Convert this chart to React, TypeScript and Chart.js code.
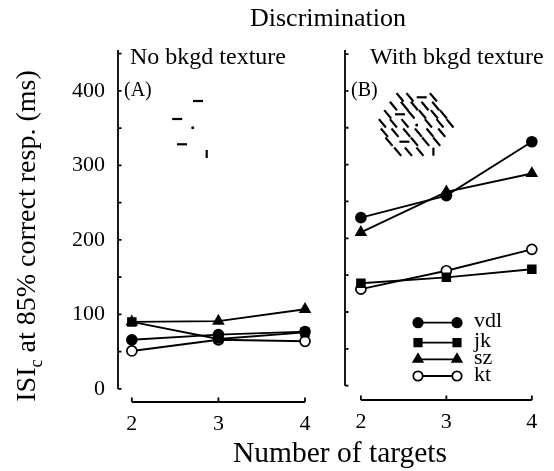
import React, { useEffect, useRef } from 'react';
import { Chart, registerables } from 'chart.js';
import { drawPoint } from 'chart.js/helpers';

Chart.register(...registerables);

// ---- data ----
const targets = [2, 3, 4];
const yTickValues = [0, 50, 100, 150, 200, 250, 300, 350, 400, 450];
const yLabelValues = [0, 100, 200, 300, 400];
const seriesNames = ['vdl', 'jk', 'sz', 'kt'];

// Panel A: no background texture
const noTex_vdl = [66, 73, 77];
const noTex_jk = [90, 67, 76];
const noTex_sz = [90, 91, 107];
const noTex_kt = [51, 66, 64];

// Panel B: with background texture
const withTex_vdl = [228, 258, 331];
const withTex_jk = [139, 147, 158];
const withTex_sz = [208, 263, 288];
const withTex_kt = [131, 156, 185];

const FONT = '"Liberation Serif", "Times New Roman", serif';

type SeriesStyle = { pointStyle: string; radius: number; fill: string };
const styles: SeriesStyle[] = [
  { pointStyle: 'circle', radius: 5, fill: '#000' },
  { pointStyle: 'rect', radius: 5.5, fill: '#000' },
  { pointStyle: 'triangle', radius: 5.6, fill: '#000' },
  { pointStyle: 'circle', radius: 5, fill: '#fff' },
];

function makeDatasets(series: number[][]) {
  return series.map((vals, i) => ({
    label: seriesNames[i],
    data: targets.map((t, j) => ({ x: t, y: vals[j] })),
    borderColor: '#000',
    borderWidth: 1.9,
    pointStyle: styles[i].pointStyle,
    pointRadius: styles[i].radius,
    pointBackgroundColor: styles[i].fill,
    pointBorderColor: '#000',
    pointBorderWidth: 1.7,
    fill: false,
    tension: 0,
    clip: false as any,
  }));
}

// decorative stimulus icons (pixel offsets relative to the centre dot)
const iconA: [number, number, string][] = [
  [5.3, -26.7, 'h'], [-15.5, -8.7, 'h'], [0, 0, 'dot'], [-10.7, 16.6, 'h'], [14, 26.3, 'v'],
];
const iconB: [number, number, string][] = [
  [-16.7, -27.7, 'd'], [-6.7, -27.7, 'd'], [5, -27.7, 'h'], [16.7, -27.7, 'd'],
  [-23.3, -19, 'd'], [-12.3, -19, 'd'], [-2.3, -19, 'd'], [8.3, -19, 'd'], [19, -19, 'd'],
  [-29, -10.7, 'd'], [-16.7, -10.7, 'h'], [-5.7, -10.7, 'd'], [5.7, -10.7, 'd'], [17.7, -10.7, 'd'], [26.7, -10.7, 'd'],
  [-34.3, -1.7, 'd'], [-23.3, -1.7, 'd'], [-11.7, -1.7, 'd'], [0, 0, 'dot'], [11.7, -1.7, 'd'], [23.3, -1.7, 'd'], [33.3, -1.7, 'd'],
  [-32.3, 7.7, 'd'], [-21.7, 7.7, 'd'], [-10, 7.7, 'd'], [1.7, 7.7, 'd'], [13.3, 7.7, 'd'], [25, 7.7, 'd'],
  [-27.7, 16.7, 'd'], [-12.3, 16.7, 'h'], [-2.3, 16.7, 'd'], [9, 16.7, 'd'], [20, 16.7, 'd'],
  [-19, 26.7, 'd'], [-8.3, 26.7, 'd'], [3.3, 26.7, 'd'], [16.7, 26.7, 'v'],
];

type PanelCfg = {
  subtitle: string;
  subtitleDx: number;
  tag: string;
  icon: [number, number, string][];
  iconDx: number;
  iconDy: number;
  legend: boolean;
};

const legendRows = [272.7, 292.7, 309.3, 326];

function panelPlugin(cfg: PanelCfg) {
  return {
    id: 'panelDecor',
    beforeDatasetsDraw(chart: any) {
      const { ctx, chartArea, scales } = chart;
      const x = scales.x, y = scales.y;
      ctx.save();
      ctx.strokeStyle = '#000';
      ctx.lineWidth = 1.8;
      ctx.lineCap = 'butt';
      const ax = chartArea.left;
      ctx.beginPath();
      ctx.moveTo(ax, chartArea.top);
      ctx.lineTo(ax, y.getPixelForValue(0));
      yTickValues.forEach((v) => {
        const py = y.getPixelForValue(v);
        ctx.moveTo(ax, py);
        ctx.lineTo(ax + 3.5, py);
      });
      const by = chartArea.bottom;
      ctx.moveTo(x.getPixelForValue(targets[0]), by);
      ctx.lineTo(x.getPixelForValue(targets[targets.length - 1]), by);
      targets.forEach((t) => {
        const px = x.getPixelForValue(t);
        ctx.moveTo(px, by);
        ctx.lineTo(px, by - 4.5);
      });
      ctx.stroke();
      ctx.restore();
    },
    afterDraw(chart: any) {
      const { ctx, chartArea } = chart;
      ctx.save();
      ctx.fillStyle = '#000';
      ctx.textBaseline = 'alphabetic';
      ctx.textAlign = 'left';
      ctx.font = `24px ${FONT}`;
      ctx.fillText(cfg.subtitle, chartArea.left + cfg.subtitleDx, chartArea.top + 13.5);
      ctx.font = `20px ${FONT}`;
      ctx.fillText(cfg.tag, chartArea.left + 6, chartArea.top + 46);

      // stimulus icon
      const cx = chartArea.left + cfg.iconDx;
      const cy = chartArea.top + cfg.iconDy;
      ctx.strokeStyle = '#000';
      ctx.lineWidth = 2.2;
      cfg.icon.forEach(([dx, dy, kind]) => {
        const px = cx + dx, py = cy + dy;
        ctx.beginPath();
        if (kind === 'dot') {
          ctx.arc(px, py, 1.5, 0, Math.PI * 2);
          ctx.fill();
          return;
        }
        if (kind === 'h') { ctx.moveTo(px - 5, py); ctx.lineTo(px + 5, py); }
        else if (kind === 'v') { ctx.moveTo(px, py - 4); ctx.lineTo(px, py + 4); }
        else { ctx.moveTo(px - 3.5, py - 4.2); ctx.lineTo(px + 3.5, py + 4.2); }
        ctx.stroke();
      });

      if (cfg.legend) {
        chart.data.datasets.forEach((ds: any, i: number) => {
          const yy = chartArea.top + legendRows[i];
          const x0 = chartArea.left + 73;
          const x1 = chartArea.left + 112;
          ctx.strokeStyle = '#000';
          ctx.lineWidth = 1.8;
          ctx.beginPath();
          ctx.moveTo(x0, yy);
          ctx.lineTo(x1, yy);
          ctx.stroke();
          ctx.fillStyle = ds.pointBackgroundColor;
          const opts = { pointStyle: ds.pointStyle, radius: ds.pointRadius - 0.3, borderWidth: 1.6, rotation: 0 };
          drawPoint(ctx, opts as any, x0, yy);
          drawPoint(ctx, opts as any, x1, yy);
          ctx.fillStyle = '#000';
          ctx.font = `22px ${FONT}`;
          ctx.textBaseline = 'middle';
          ctx.fillText(ds.label, chartArea.left + 129, yy - 1);
        });
      }
      ctx.restore();
    },
  };
}

function makeConfig(opts: {
  series: number[][];
  xMin: number; xMax: number; yMin: number; yMax: number;
  yWidth: number; xHeight: number; padRight: number; showYLabels: boolean;
  cfg: PanelCfg;
}) {
  return {
    type: 'line' as const,
    data: { datasets: makeDatasets(opts.series) },
    options: {
      animation: false as const,
      responsive: false,
      devicePixelRatio: 1,
      layout: { padding: { top: 50, right: opts.padRight, left: 0, bottom: 0 } },
      plugins: { legend: { display: false }, tooltip: { enabled: false }, title: { display: false } },
      scales: {
        x: {
          type: 'linear' as const,
          min: opts.xMin,
          max: opts.xMax,
          afterBuildTicks: (scale: any) => { scale.ticks = targets.map((v) => ({ value: v })); },
          afterFit: (scale: any) => { scale.height = opts.xHeight; },
          grid: { display: false, drawTicks: false },
          border: { display: false },
          ticks: {
            autoSkip: false,
            maxRotation: 0,
            padding: 9,
            color: '#000',
            font: { family: FONT, size: 22 },
            callback: (v: any) => String(v),
          },
        },
        y: {
          type: 'linear' as const,
          min: opts.yMin,
          max: opts.yMax,
          afterBuildTicks: (scale: any) => { scale.ticks = yTickValues.map((v) => ({ value: v })); },
          afterFit: (scale: any) => { scale.width = opts.yWidth; },
          grid: { display: false, drawTicks: false },
          border: { display: false },
          ticks: {
            display: opts.showYLabels,
            autoSkip: false,
            padding: 13,
            color: '#000',
            font: { family: FONT, size: 22 },
            callback: (v: any) => (yLabelValues.includes(v) ? String(v) : ''),
          },
        },
      },
    },
    plugins: [panelPlugin(opts.cfg)],
  };
}

export default function App() {
  const leftRef = useRef<HTMLCanvasElement>(null);
  const rightRef = useRef<HTMLCanvasElement>(null);

  useEffect(() => {
    const left = new Chart(leftRef.current as HTMLCanvasElement, makeConfig({
      series: [noTex_vdl, noTex_jk, noTex_sz, noTex_kt],
      xMin: 1.84, xMax: 4.15, yMin: -17.5, yMax: 455,
      yWidth: 118, xHeight: 69, padRight: 12, showYLabels: true,
      cfg: { subtitle: 'No bkgd texture', subtitleDx: 12, tag: '(A)', icon: iconA, iconDx: 74.7, iconDy: 77.7, legend: false },
    }) as any);
    const right = new Chart(rightRef.current as HTMLCanvasElement, makeConfig({
      series: [withTex_vdl, withTex_jk, withTex_sz, withTex_kt],
      xMin: 1.814, xMax: 4.174, yMin: -19.4, yMax: 455.5,
      yWidth: 15, xHeight: 71, padRight: 6, showYLabels: false,
      cfg: { subtitle: 'With bkgd texture', subtitleDx: 25, tag: '(B)', icon: iconB, iconDx: 71.7, iconDy: 75, legend: true },
    }) as any);
    return () => { left.destroy(); right.destroy(); };
  }, []);

  return (
    <div style={{ position: 'fixed', left: 0, top: 0, width: 554, height: 471, background: '#fff', fontFamily: FONT, color: '#000', overflow: 'hidden' }}>
      <canvas ref={leftRef} width={330} height={471} style={{ position: 'absolute', left: 0, top: 0 }} />
      <canvas ref={rightRef} width={224} height={471} style={{ position: 'absolute', left: 330, top: 0 }} />
      <div style={{ position: 'absolute', left: 128, top: 3, width: 400, height: 30, lineHeight: '30px', fontSize: 26, textAlign: 'center', whiteSpace: 'nowrap' }}>
        Discrimination
      </div>
      <div style={{ position: 'absolute', left: 140, top: 437, width: 400, height: 30, lineHeight: '30px', fontSize: 29.5, textAlign: 'center', whiteSpace: 'nowrap' }}>
        Number of targets
      </div>
      <div style={{ position: 'absolute', left: 26 - 200, top: 236 - 15, width: 400, height: 30, lineHeight: '30px', fontSize: 28, textAlign: 'center', whiteSpace: 'nowrap', transform: 'rotate(-90deg)' }}>
        ISI<sub style={{ fontSize: 18, lineHeight: 0 }}>c</sub> at 85% correct resp. (ms)
      </div>
    </div>
  );
}
